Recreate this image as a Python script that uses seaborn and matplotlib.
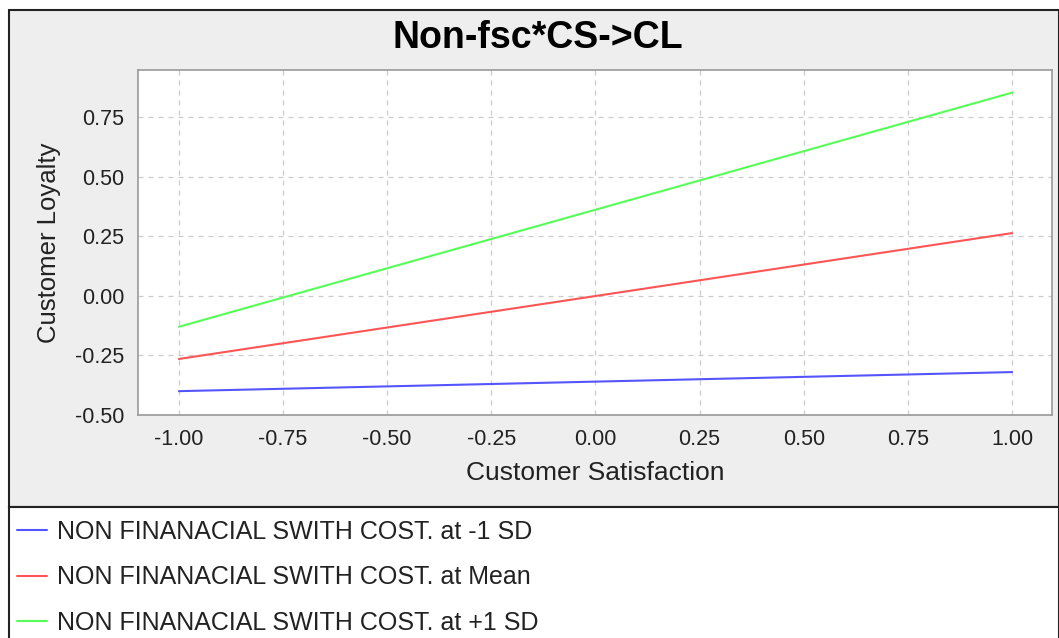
import matplotlib
matplotlib.use("Agg")
import matplotlib.pyplot as plt
import seaborn as sns
import pandas as pd
from matplotlib.patches import Rectangle

# values
satisfaction = [-1.0, 1.0]
loyalty_low = [-0.40, -0.32]
loyalty_mean = [-0.265, 0.263]
loyalty_high = [-0.13, 0.852]
series_names = [
    "NON FINANACIAL SWITH COST. at -1 SD",
    "NON FINANACIAL SWITH COST. at Mean",
    "NON FINANACIAL SWITH COST. at +1 SD",
]
series_colors = ["#5555FF", "#FF5555", "#55FF55"]
x_ticks = [-1.0, -0.75, -0.5, -0.25, 0.0, 0.25, 0.5, 0.75, 1.0]
y_ticks = [-0.5, -0.25, 0.0, 0.25, 0.5, 0.75]

rows = []
for name, vals in zip(series_names, [loyalty_low, loyalty_mean, loyalty_high]):
    for x, y in zip(satisfaction, vals):
        rows.append((name, x, y))
df = pd.DataFrame(rows, columns=["Series", "Customer Satisfaction", "Customer Loyalty"])

sns.set_style("white")
plt.rcParams["font.family"] = ["Liberation Sans", "DejaVu Sans"]

W, H = 1059, 638
fig = plt.figure(figsize=(W / 100, H / 100), dpi=100)
fig.patch.set_facecolor("white")

# grey chart panel and white legend panel, with the dark outline
fig.patches.append(Rectangle((9 / W, (H - 507) / H), (W - 9) / W, 497 / H,
                             transform=fig.transFigure, facecolor="#EEEEEE",
                             edgecolor="#222222", linewidth=1.5, zorder=-10))
fig.patches.append(Rectangle((9 / W, -0.01), (W - 9) / W, (H - 507) / H + 0.01,
                             transform=fig.transFigure, facecolor="white",
                             edgecolor="#222222", linewidth=1.5, zorder=-10))

ax = fig.add_axes([138 / W, (H - 415) / H, (1052 - 138) / W, (415 - 70) / H])
ax.set_zorder(1)
sns.lineplot(data=df, x="Customer Satisfaction", y="Customer Loyalty", hue="Series",
             palette=dict(zip(series_names, series_colors)), linewidth=1.5,
             legend=False, ax=ax)

ax.set_xlim(-1.098, 1.096)
ax.set_ylim(-0.5, 0.947)
ax.set_xticks(x_ticks)
ax.set_yticks(y_ticks)
ax.set_xticklabels([f"{v:.2f}" for v in x_ticks])
ax.set_yticklabels([f"{v:.2f}" for v in y_ticks])
ax.grid(True, linestyle=(0, (4, 4)), color="#CCCCCC", linewidth=0.9)
ax.set_axisbelow(True)
for side in ax.spines.values():
    side.set_color("#999999")
    side.set_linewidth(1.2)
ax.tick_params(axis="both", direction="out", length=4, width=1, color="#999999",
               labelsize=15.5, labelcolor="#222222", pad=6)

ax.set_xlabel("Customer Satisfaction", fontsize=19, color="#222222", labelpad=8)
ax.set_ylabel("Customer Loyalty", fontsize=18.5, color="#222222", labelpad=10)

fig.text(538 / W, 1 - 38 / H, "Non-fsc*CS->CL", fontsize=27, fontweight="bold",
         color="black", ha="center", va="center")

handles = [plt.Line2D([], [], color=c, linewidth=1.5) for c in series_colors]
fig.legend(handles, series_names, loc="upper left", bbox_to_anchor=(17 / W, 1 - 520 / H),
           frameon=False, fontsize=18, handlelength=1.2, handletextpad=0.4,
           labelspacing=0.86, borderaxespad=0, borderpad=0, labelcolor="#222222")

plt.savefig("out.png", dpi=100)
plt.close()
